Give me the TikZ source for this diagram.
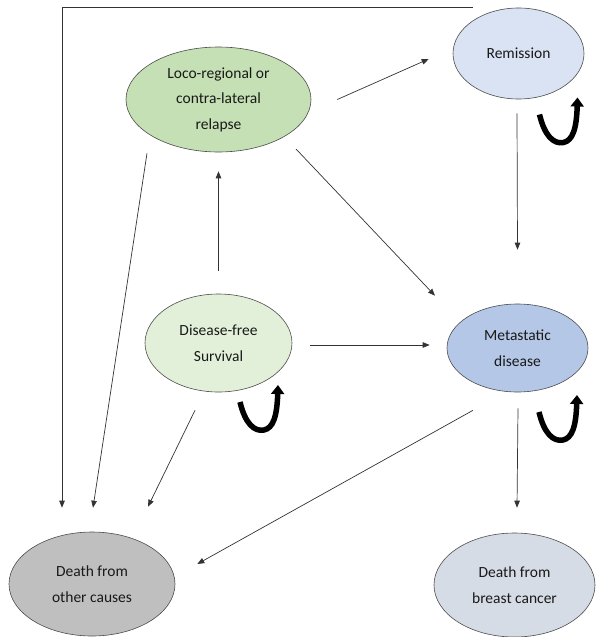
\documentclass[tikz,border=0pt]{standalone}
\usepackage{fontspec}
\setmainfont{Carlito}
\usepackage{tikz}
\usetikzlibrary{positioning, shapes.geometric, arrows.meta}

\definecolor{relapsegreen}{HTML}{C5E0B4}
\definecolor{dfsgreen}{HTML}{E2F0D9}
\definecolor{remissionblue}{HTML}{DAE3F3}
\definecolor{metablue}{HTML}{B4C7E7}
\definecolor{othergray}{HTML}{BFBFBF}
\definecolor{breastgray}{HTML}{D6DCE5}

\tikzstyle{state} = [ellipse, draw=black!70, line width=0.6pt, inner sep=0pt, align=center, text=black!90, font=\fontsize{15.5}{25.5}\selectfont]
\tikzstyle{arrow} = [line width=0.7pt, draw=black!80, -{Triangle[length=7pt,width=5.5pt]}]
\tikzstyle{loopline} = [line width=5.5pt, -{Triangle[length=9pt,width=13pt]}]
\tikzset{selfloop/.pic={
    \draw[loopline] (-38,17) .. controls (-33,38) and (-24,47) .. (-14,45) .. controls (-5,43) and (-1,32) .. (0,0);
}}

\begin{document}
\begin{tikzpicture}[x=1pt, y=-1pt]
	\useasboundingbox (0,0) rectangle (596,637);

	\node (relapse) [state, fill=relapsegreen, minimum width=185pt, minimum height=105pt] at (218.5,99.5) {Loco-regional or\\contra-lateral\\relapse};
	\node (remission) [state, fill=remissionblue, minimum width=131pt, minimum height=91pt] at (518.5,53.5) {Remission};
	\node (dfs) [state, fill=dfsgreen, minimum width=147pt, minimum height=98pt] at (218.5,343) {Disease-free\\Survival};
	\node (meta) [state, fill=metablue, minimum width=141pt, minimum height=88pt] at (517.5,348) {Metastatic\\disease};
	\node (other) [state, fill=othergray, minimum width=166pt, minimum height=104pt] at (92,584) {Death from\\other causes};
	\node (breast) [state, fill=breastgray, minimum width=161pt, minimum height=104pt] at (514.5,585) {Death from\\breast cancer};

	\draw [arrow] ([shift={(26,0)}]relapse.east) -- ([shift={(-24,5.5)}]remission.west);
	\draw [arrow] ([shift={(77.5,49.5)}]relapse.center) -- ([shift={(-82.5,-8)}]meta.north);
	\draw [arrow] ([shift={(-71.5,1)}]relapse.south) -- ([shift={(1,-24)}]other.north);
	\draw [arrow] ([shift={(0,-23)}]dfs.north) -- ([shift={(0,19)}]relapse.south);
	\draw [arrow] ([shift={(18,2)}]dfs.east) -- ([shift={(-17,-3)}]meta.west);
	\draw [arrow] ([shift={(-23.5,18)}]dfs.south) -- ([shift={(56,-25)}]other.north);
	\draw [arrow] ([shift={(-1.5,14)}]remission.south) -- ([shift={(0,-54)}]meta.north);
	\draw [arrow] ([shift={(0.5,16)}]meta.south) -- ([shift={(2.5,-25)}]breast.north);
	\draw [arrow] ([shift={(-44.5,18)}]meta.south) -- ([shift={(22,-20)}]other.east);
	\draw [arrow] ([shift={(-45.5,0)}]remission.north) -| ([shift={(-30,-24)}]other.north);

	\pic at ([shift={(59,44)}]remission.center) {selfloop};
	\pic at ([shift={(59.5,42)}]dfs.center) {selfloop};
	\pic at ([shift={(59.5,47)}]meta.center) {selfloop};

\end{tikzpicture}
\end{document}
